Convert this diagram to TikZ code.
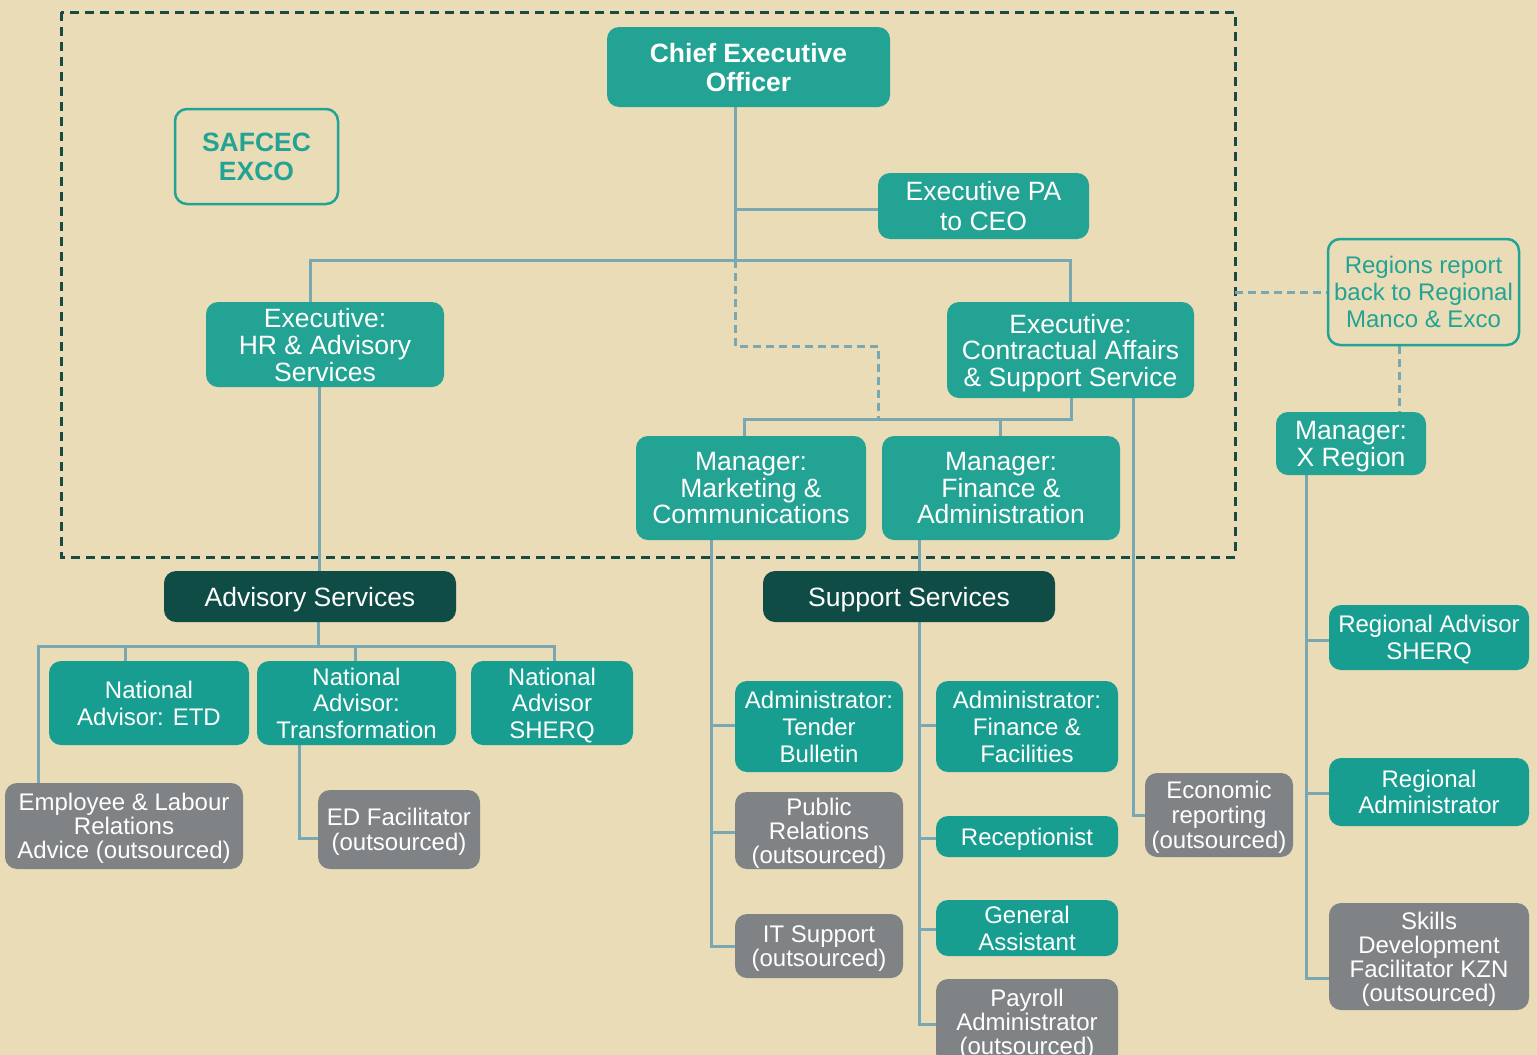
\documentclass[tikz,border=0pt]{standalone}
\usepackage{fontspec}
\setmainfont{Liberation Sans}
\usetikzlibrary{backgrounds}
\definecolor{bgc}{RGB}{233,220,183}
\definecolor{tealA}{RGB}{35,163,147}
\definecolor{tealB}{RGB}{24,158,144}
\definecolor{darkc}{RGB}{15,76,70}
\definecolor{grayc}{RGB}{128,131,134}
\definecolor{linec}{RGB}{122,168,178}
\definecolor{framec}{RGB}{25,75,70}
\tikzset{
  box/.style={rectangle, rounded corners=12pt, align=center, inner sep=0pt, text=white, text depth=0pt},
  ta/.style={box, fill=tealA},
  tb/.style={box, fill=tealB},
  dk/.style={box, fill=darkc},
  gy/.style={box, fill=grayc},
  ol/.style={box, draw=tealA, line width=2.5pt, text=tealA},
  sz/.style 2 args={minimum width=#1pt, minimum height=#2pt},
  bigf/.style={font=\fontsize{26.5}{#1}\selectfont},
  bigf/.default=27,
  boldf/.style={font=\bfseries\fontsize{26.5}{#1}\selectfont},
  boldf/.default=29,
  smf/.style={font=\fontsize{24}{#1}\selectfont},
  smf/.default=24,
  conn/.style={draw=linec, line width=3pt},
  dconn/.style={draw=linec, line width=3pt, dash pattern=on 8pt off 5pt},
  frame/.style={draw=framec, line width=3pt, dash pattern=on 9pt off 6pt}
}
\begin{document}
\begin{tikzpicture}[x=1pt, y=-1pt]
\useasboundingbox (0,0) rectangle (1537,1055);
% nodes
\node[ta, sz={283}{80}, boldf=29] (ceo) at (748.5,67) {Chief Executive\\Officer};
\node[ol, sz={163}{95}, boldf=29] (exco) at (256.5,156.5) {SAFCEC\\EXCO};
\node[ta, sz={211}{66}, bigf=30] (pa) at (983.5,206) {Executive PA\\to CEO};
\node[ta, sz={238}{85}, bigf=27] (hr) at (325,344.5) {Executive:\\HR \& Advisory\\Services};
\node[ta, sz={247}{96}, bigf=26.5] (ca) at (1070.5,350) {Executive:\\Contractual Affairs\\\& Support Service};
\node[ta, sz={230}{104}, bigf=26.5] (mkt) at (751,488) {Manager:\\Marketing \&\\Communications};
\node[ta, sz={238}{104}, bigf=26.5] (fin) at (1001,488) {Manager:\\Finance \&\\Administration};
\node[ol, sz={191}{106}, smf=27] (reg) at (1423.5,292) {Regions report\\back to Regional\\Manco \& Exco};
\node[ta, sz={150}{63}, bigf=27] (xr) at (1351,443.5) {Manager:\\X Region};
\node[dk, sz={292}{51}, bigf] (adv) at (310,596.5) {Advisory Services};
\node[dk, sz={292}{51}, bigf] (sup) at (909,596.5) {Support Services};
\node[tb, sz={200}{84}, smf=27] (etd) at (149,703) {National\\Advisor: ETD};
\node[tb, sz={199}{84}, smf=26.5] (trf) at (356.5,703) {National\\Advisor:\\Transformation};
\node[tb, sz={162}{84}, smf=26.5] (nsh) at (552,703) {National\\Advisor\\SHERQ};
\node[gy, sz={238}{86}, smf=24] (emp) at (124,826) {Employee \& Labour\\Relations\\Advice (outsourced)};
\node[gy, sz={162}{79}, smf=25] (ed) at (399,829.5) {ED Facilitator\\(outsourced)};
\node[tb, sz={168}{91}, smf=27] (ten) at (819,726.5) {Administrator:\\Tender\\Bulletin};
\node[gy, sz={168}{77}, smf=24] (pr) at (819,830.5) {Public\\Relations\\(outsourced)};
\node[gy, sz={168}{64}, smf=24] (it) at (819,946) {IT Support\\(outsourced)};
\node[tb, sz={182}{91}, smf=27] (afin) at (1027,726.5) {Administrator:\\Finance \&\\Facilities};
\node[tb, sz={182}{41}, smf] (rec) at (1027,836.5) {Receptionist};
\node[tb, sz={182}{56}, smf=27] (gen) at (1027,928) {General\\Assistant};
\node[gy, sz={182}{86}, smf=24] (pay) at (1027,1022) {Payroll\\Administrator\\(outsourced)};
\node[gy, sz={148}{84}, smf=25] (eco) at (1219,815) {Economic\\reporting\\(outsourced)};
\node[tb, sz={200}{65}, smf=27] (rsh) at (1429,637.5) {Regional Advisor\\SHERQ};
\node[tb, sz={200}{68}, smf=26] (radm) at (1429,792) {Regional\\Administrator};
\node[gy, sz={200}{107}, smf=24] (skl) at (1429,956.5) {Skills\\Development\\Facilitator KZN\\(outsourced)};
% coordinates
\coordinate (t1) at (735,260);
\coordinate (t2) at (735,209);
\coordinate (hrx) at (310,260);
\coordinate (cax) at (1070,260);
\coordinate (d1) at (735,346);
\coordinate (d2) at (878,346);
\coordinate (d3) at (878,419);
\coordinate (mb1) at (744,419);
\coordinate (mb2) at (1000,419);
\coordinate (mb3) at (1071,419);
\coordinate (e1) at (1133,815);
\coordinate (h1) at (319,500);
\coordinate (ab) at (318,646);
\coordinate (abL) at (38,646);
\coordinate (abR) at (554,646);
\coordinate (ab1) at (125,646);
\coordinate (ab2) at (355,646);
\coordinate (tr1) at (299,838);
\coordinate (m1) at (711,946);
\coordinate (m2) at (711,725);
\coordinate (m3) at (711,832);
\coordinate (f0) at (919,560);
\coordinate (f1) at (919,1024);
\coordinate (f2) at (919,725);
\coordinate (f3) at (919,838);
\coordinate (f4) at (919,929);
\coordinate (r1) at (1235,292);
\coordinate (r2) at (1399,380);
\coordinate (x1) at (1306,978);
\coordinate (x2) at (1306,640);
\coordinate (x3) at (1306,793);
\begin{pgfonlayer}{background}
\fill[bgc] (0,0) rectangle (1537,1055);
\draw[frame] (61,12) rectangle (1235,557);
\draw[conn] (t1 |- ceo.south) -- (t1);
\draw[conn] (t2) -- (t2 -| pa.west);
\draw[conn] (hrx |- hr.north) -- (hrx) -- (cax) -- (cax |- ca.north);
\draw[dconn] (t1) -- (d1) -- (d2) -- (d3);
\draw[conn] (mb1 |- mkt.north) -- (mb1) -- (mb3) -- (mb3 |- ca.south);
\draw[conn] (mb2) -- (mb2 |- fin.north);
\draw[conn] (e1 |- ca.south) -- (e1) -- (e1 -| eco.west);
\draw[conn] (h1 |- hr.south) -- (h1 |- adv.north);
\draw[conn] (ab |- adv.south) -- (ab);
\draw[conn] (abL |- emp.north) -- (abL) -- (abR) -- (abR |- nsh.north);
\draw[conn] (ab1) -- (ab1 |- etd.north);
\draw[conn] (ab2) -- (ab2 |- trf.north);
\draw[conn] (tr1 |- trf.south) -- (tr1) -- (tr1 -| ed.west);
\draw[conn] (m1 |- mkt.south) -- (m1) -- (m1 -| it.west);
\draw[conn] (m2) -- (m2 -| ten.west);
\draw[conn] (m3) -- (m3 -| pr.west);
\draw[conn] (f0 |- fin.south) -- (f0 |- sup.north);
\draw[conn] (f1 |- sup.south) -- (f1) -- (f1 -| pay.west);
\draw[conn] (f2) -- (f2 -| afin.west);
\draw[conn] (f3) -- (f3 -| rec.west);
\draw[conn] (f4) -- (f4 -| gen.west);
\draw[dconn] (r1) -- (r1 -| reg.west);
\draw[dconn] (r2 |- reg.south) -- (r2 |- xr.north);
\draw[conn] (x1 |- xr.south) -- (x1) -- (x1 -| skl.west);
\draw[conn] (x2) -- (x2 -| rsh.west);
\draw[conn] (x3) -- (x3 -| radm.west);
\end{pgfonlayer}
\end{tikzpicture}
\end{document}
